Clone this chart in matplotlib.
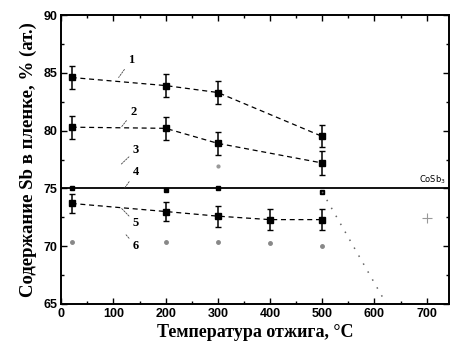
import matplotlib
matplotlib.use("Agg")
import matplotlib.pyplot as plt
from matplotlib.ticker import MultipleLocator

# annealing temperature, C
t_main = [20, 200, 300, 500]
t_45 = [20, 200, 300, 400, 500]

s1 = [84.6, 83.9, 83.3, 79.5]
s1_err = [1.0, 1.0, 1.0, 0.95]
s2 = [80.3, 80.2, 78.9, 77.2]
s2_err = [1.0, 1.0, 1.0, 1.0]

t_s3 = [300]
s3 = [76.9]

t_s4 = [20, 200, 300, 500]
s4 = [75.0, 74.9, 75.0, 74.7]
t_s4_drop = [500, 623]
s4_drop = [74.7, 65.0]

s5 = [73.7, 73.0, 72.6, 72.3, 72.3]
s5_err = [0.8, 0.8, 0.9, 0.9, 0.9]

t_s6 = [20, 200, 300, 400, 500, 700]
s6 = [70.4, 70.4, 70.4, 70.3, 70.0, 72.4]

cosb3_level = 75.0

serif = ["Liberation Serif", "DejaVu Serif"]
sans = ["Liberation Sans Narrow", "Liberation Sans", "DejaVu Sans"]

fig = plt.figure(figsize=(4.5, 3.51), dpi=100)
ax = fig.add_axes([0.136, 0.134, 0.862, 0.823])

ek = dict(fmt="s", color="black", ms=4, capsize=2.5, elinewidth=1.1, capthick=1.0)
ax.errorbar(t_main, s1, yerr=s1_err, **ek)
ax.plot(t_main, s1, "--", color="black", lw=0.9, dashes=(4, 3))
ax.errorbar(t_main, s2, yerr=s2_err, **ek)
ax.plot(t_main, s2, "--", color="black", lw=0.9, dashes=(4, 3))

ax.plot(t_s3, s3, "o", color="#999999", ms=2)

ax.axhline(cosb3_level, color="black", lw=1.3)
ax.plot(t_s4, s4, "s", color="black", ms=3.5)
ax.plot(t_s4_drop, s4_drop, color="#666666", lw=1.1, dashes=(1, 5))

ax.errorbar(t_45, s5, yerr=s5_err, **ek)
ax.plot(t_45, s5, "--", color="black", lw=0.9, dashes=(4, 3))

ax.plot(t_s6[:-1], s6[:-1], "o", color="#888888", ms=2.5)
ax.plot(t_s6[-1:], s6[-1:], "+", color="#999999", ms=7, mew=0.8)

# curve labels with leaders
labels = [("1", (128, 86.1), (110, 84.6)),
          ("2", (132, 81.6), (115, 80.3)),
          ("3", (137, 78.3), (115, 77.1)),
          ("4", (137, 76.4), (121, 75.0)),
          ("5", (137, 72.0), (115, 73.3)),
          ("6", (137, 70.0), (124, 71.0))]
for txt, (lx, ly), (px, py) in labels:
    ax.annotate(txt, xy=(px, py), xytext=(lx, ly), fontsize=9, fontweight="bold",
                family=serif, ha="left", va="center",
                arrowprops=dict(arrowstyle="-", color="#444444", lw=0.6, ls=(0, (2, 1.5)),
                                shrinkA=1, shrinkB=0))

ax.text(738, 75.2, "CoSb$_3$", fontsize=6, ha="right", va="bottom")

ax.set_xlim(0, 743)
ax.set_ylim(65, 90)
ax.xaxis.set_major_locator(MultipleLocator(100))
ax.xaxis.set_minor_locator(MultipleLocator(50))
ax.yaxis.set_major_locator(MultipleLocator(5))
ax.yaxis.set_minor_locator(MultipleLocator(2.5))
ax.tick_params(which="both", direction="in", top=True, right=True, width=1.0)
ax.tick_params(which="major", length=4, labelsize=9, pad=3)
ax.tick_params(which="minor", length=2)
for lab in ax.get_xticklabels() + ax.get_yticklabels():
    lab.set_family(sans)
    lab.set_fontweight("bold")
for sp in ax.spines.values():
    sp.set_linewidth(1.4)

ax.set_xlabel("Температура отжига, °C", family=serif, fontweight="bold", fontsize=13, labelpad=3)
ax.set_ylabel("Содержание Sb в пленке, % (ат.)", family=serif, fontweight="bold",
              fontsize=13.5, labelpad=4)

fig.savefig("out.png", dpi=100)
